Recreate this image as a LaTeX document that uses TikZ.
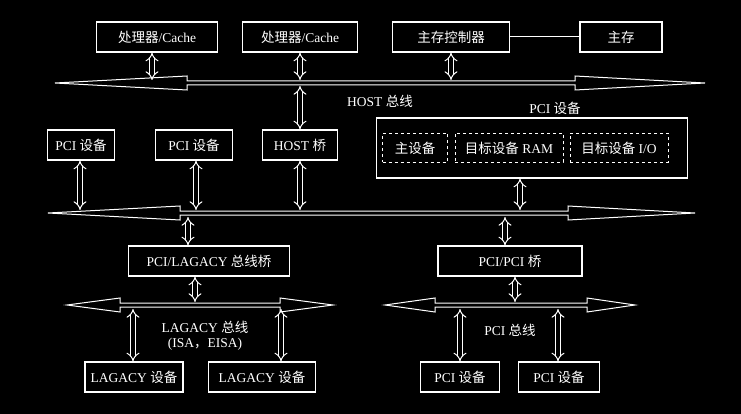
\documentclass[tikz,border=0pt]{standalone}
\usepackage{fontspec}
\setmainfont{Liberation Serif}
\newfontfamily\cjk{Noto Sans CJK SC}
\usetikzlibrary{arrows.meta}
\begin{document}
\begin{tikzpicture}[x=1pt,y=-1pt,
  box/.style={draw=white,line width=1.2pt,minimum height=30pt,text=white,font=\fontsize{13.5}{14}\selectfont,inner sep=1pt},
  dbox/.style={draw=white,dashed,line width=0.7pt,minimum height=29pt,text=white,font=\fontsize{13.5}{14}\selectfont,inner sep=1pt},
  lab/.style={text=white,font=\fontsize{13.5}{14}\selectfont,inner sep=1pt},
  dar/.style={draw=white,double=black,double distance=3.5pt,line width=1pt,{Implies[length=6pt]}-{Implies[length=6pt]}},
  bus/.style={draw=white,line width=1pt,fill=black}]
\fill[black] (0,0) rectangle (741,414);
\newcommand{\mybus}[5]{% y, x1, x2, base1, base2
  \draw[bus] (#2,#1) -- (#4,#1-7) -- (#4,#1-2) -- (#5,#1-2) -- (#5,#1-7) -- (#3,#1)
   -- (#5,#1+7) -- (#5,#1+2) -- (#4,#1+2) -- (#4,#1+7) -- cycle;}
% top row
\node[box,minimum width=121pt] (p1) at (157,37) {{\cjk 处理器}/Cache};
\node[box,minimum width=115pt] (p2) at (300,37) {{\cjk 处理器}/Cache};
\node[box,minimum width=117pt] (mc) at (451,37) {\cjk 主存控制器};
\node[box,minimum width=82pt] (mm) at (621,37) {\cjk 主存};
\draw[white,line width=1pt] (mc) -- (mm);
\mybus{83}{55}{705}{187}{575}
\coordinate (hb1) at (152,80); \coordinate (hb2) at (300,80); \coordinate (hb3) at (451,80);
\coordinate (hb4) at (300,86);
\draw[dar] (p1.south -| hb1) -- (hb1);
\draw[dar] (p2.south) -- (hb2);
\draw[dar] (mc.south) -- (hb3);
\node[lab] (hl) at (380,101) {HOST {\cjk 总线}};
\node[lab] (pl) at (555,108) {PCI {\cjk 设备}};
% second row
\node[box,minimum width=67pt] (d1) at (81,145) {PCI {\cjk 设备}};
\node[box,minimum width=77pt] (d2) at (194,145) {PCI {\cjk 设备}};
\node[box,minimum width=75pt] (hbr) at (300,145) {HOST {\cjk 桥}};
\node[box,minimum width=311pt,minimum height=60pt] (big) at (532,148) {};
\node[dbox,minimum width=65pt] (i1) at (415,148) {\cjk 主设备};
\node[dbox,minimum width=108pt] (i2) at (509,148) {{\cjk 目标设备} RAM};
\node[dbox,minimum width=98pt] (i3) at (619,148) {{\cjk 目标设备} I/O};
\draw[dar] (hb4) -- (hbr.north);
\mybus{213}{48}{695}{180}{568}
\coordinate (b1) at (80,210); \coordinate (b2) at (196,210); \coordinate (b3) at (300,210); \coordinate (b4) at (520,210);
\coordinate (c1) at (188,217); \coordinate (c2) at (505,217);
\draw[dar] (d1.south -| b1) -- (b1);
\draw[dar] (d2.south -| b2) -- (b2);
\draw[dar] (hbr.south) -- (b3);
\draw[dar] (big.south -| b4) -- (b4);
% third row
\node[box,minimum width=161pt] (lb) at (209,261) {PCI/LAGACY {\cjk 总线桥}};
\node[box,minimum width=144pt] (pb) at (510,261) {PCI/PCI {\cjk 桥}};
\draw[dar] (c1) -- (lb.north -| c1);
\draw[dar] (c2) -- (pb.north -| c2);
\mybus{305}{67}{333}{120}{280}
\mybus{305}{385}{635}{435}{587}
\coordinate (l0) at (195,302); \coordinate (q0) at (515,302);
\draw[dar] (lb.south -| l0) -- (l0);
\draw[dar] (pb.south -| q0) -- (q0);
\node[lab] (ll) at (205,327) {LAGACY {\cjk 总线}};
\node[lab] (ll2) at (205,344) {(ISA{\cjk ，}EISA)};
\node[lab] (ql) at (510,330) {PCI {\cjk 总线}};
% bottom row
\node[box,minimum width=98pt] (e1) at (134,377) {LAGACY {\cjk 设备}};
\node[box,minimum width=107pt] (e2) at (262,377) {LAGACY {\cjk 设备}};
\node[box,minimum width=79pt] (e3) at (460,377) {PCI {\cjk 设备}};
\node[box,minimum width=81pt] (e4) at (559,377) {PCI {\cjk 设备}};
\coordinate (f1) at (133,309); \coordinate (f2) at (281,309); \coordinate (f3) at (460,309); \coordinate (f4) at (558,309);
\draw[dar] (f1) -- (e1.north -| f1);
\draw[dar] (f2) -- (e2.north -| f2);
\draw[dar] (f3) -- (e3.north);
\draw[dar] (f4) -- (e4.north -| f4);
\end{tikzpicture}
\end{document}
